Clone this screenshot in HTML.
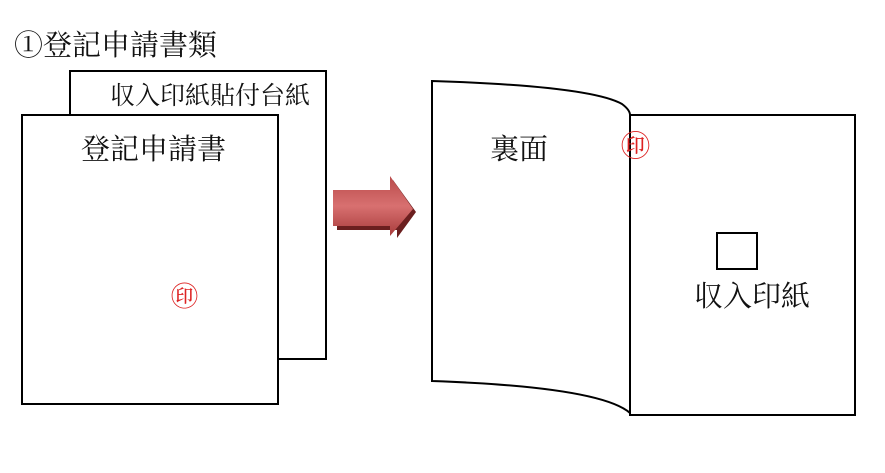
<!DOCTYPE html>
<html><head><meta charset="utf-8"><style>
body{margin:0;background:#fff}
svg{display:block}
text{font-family:"Liberation Serif","Noto Serif CJK SC",serif;fill:#111}
</style></head><body>
<svg width="885" height="473" viewBox="0 0 885 473">
<defs>
<linearGradient id="g" x1="0" y1="0" x2="0" y2="1">
<stop offset="0" stop-color="#b84a4a"/><stop offset="0.5" stop-color="#d87070"/><stop offset="1" stop-color="#a83c3c"/>
</linearGradient>
</defs>
<text x="14" y="55" font-size="29">①登記申請書類</text>
<rect x="70" y="71" width="256" height="288" fill="#fff" stroke="#000" stroke-width="2"/>
<text x="110" y="104" font-size="25">収入印紙貼付台紙</text>
<rect x="22" y="115" width="256" height="289" fill="#fff" stroke="#000" stroke-width="2"/>
<text x="81" y="159" font-size="29">登記申請書</text>
<text x="171" y="306" font-size="27" style="fill:#d22">㊞</text>
<polygon points="337,194 393,194 393,180 416,212 397,238 397,230 337,230" fill="#6b1f1f"/>
<polygon points="333,190 390,190 390,176 413,209 390,236 390,226 333,226" fill="url(#g)"/>
<path d="M432,81 Q590,86 622,104 Q630,110 630,115 L630,413 Q600,387 432,381 Z" fill="#fff" stroke="#000" stroke-width="2"/>
<rect x="630" y="115" width="225" height="300" fill="#fff" stroke="#000" stroke-width="2"/>
<text x="490" y="159" font-size="29">裏面</text>
<text x="621" y="156" font-size="29" style="fill:#d22">㊞</text>
<rect x="717" y="233" width="40" height="36" fill="#fff" stroke="#000" stroke-width="2"/>
<text x="694" y="306" font-size="29">収入印紙</text>
</svg>
</body></html>
